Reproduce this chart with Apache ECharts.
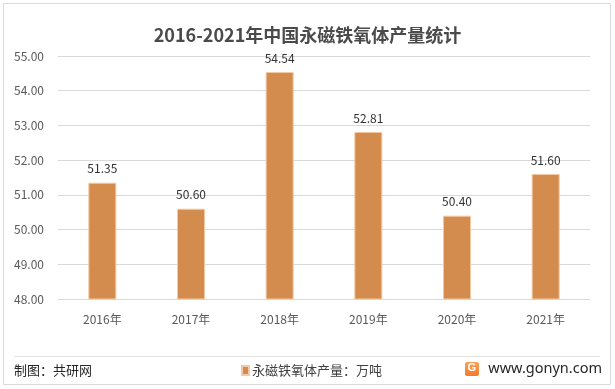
<!DOCTYPE html>
<html>
<head>
<meta charset="utf-8">
<script src="https://cdn.jsdelivr.net/npm/echarts@6/dist/echarts.min.js"></script>
<style>html,body{margin:0;padding:0;background:#fff}#c{width:615px;height:389px}</style>
</head>
<body>
<div id="c"></div>
<script>
var categories = ['2016年','2017年','2018年','2019年','2020年','2021年'];
var values = [51.35, 50.60, 54.54, 52.81, 50.40, 51.60];
var seriesName = '永磁铁氧体产量：万吨';
var titleText = '2016-2021年中国永磁铁氧体产量统计';

var chart = echarts.init(document.getElementById('c'), null, {renderer:'canvas'});
var font = '"Microsoft YaHei","Noto Sans CJK SC","Noto Sans",sans-serif';
chart.setOption({
  animation:false,
  backgroundColor:'#fff',
  title:{text:titleText,left:'center',top:21,textStyle:{fontFamily:font,fontSize:18,fontWeight:'bold',color:'#4a4a4a'}},
  grid:{left:58,right:25,top:56,bottom:90,containLabel:false},
  legend:{data:[seriesName],left:236,top:359,itemWidth:7,itemHeight:9,itemGap:4,icon:'rect',
    textStyle:{fontFamily:font,fontSize:13,color:'#404040',padding:[0,0,0,-2]}},
  xAxis:{type:'category',data:categories,
    axisLine:{show:false},axisTick:{show:false},
    axisLabel:{fontFamily:font,fontSize:12,color:'#595959',margin:14}},
  yAxis:{type:'value',min:48,max:55,interval:1,
    axisLine:{show:false},axisTick:{show:false},
    splitLine:{lineStyle:{color:'#d9d9d9',width:1}},
    axisLabel:{fontFamily:font,fontSize:12,color:'#595959',margin:14,formatter:function(v){return v.toFixed(2);}}},
  series:[{name:seriesName,type:'bar',data:values,barWidth:28,
    itemStyle:{color:'#D48B4E',borderColor:'#F2C9A2',borderWidth:1},
    label:{show:true,position:'top',distance:8,fontFamily:font,fontSize:12,color:'#333333',
      formatter:function(p){return p.value.toFixed(2);}}}],
  graphic:[
    {type:'rect',shape:{x:3.5,y:3.5,width:607,height:381},style:{fill:'none',stroke:'#d9d9d9',lineWidth:1},silent:true},
    {type:'line',shape:{x1:14,y1:356.5,x2:600,y2:356.5},style:{stroke:'#e3e3e3',lineWidth:1}},
    {type:'text',left:14,top:364,style:{text:'制图：共研网',font:'13px '+font,fill:'#262626'}},
    {type:'text',right:13,top:361,style:{text:'www.gonyn.com',font:'14.5px "Noto Sans","Open Sans",sans-serif',fill:'#262626'}},
    {type:'rect',shape:{x:465,y:362,width:14,height:14,r:2},
      style:{fill:new echarts.graphic.LinearGradient(0,0,0,1,[{offset:0,color:'#F9A25A'},{offset:1,color:'#F07A2F'}])}},
    {type:'text',x:467.5,y:362.5,style:{text:'G',font:'bold 11px sans-serif',fill:'#fff'}}
  ]
});
</script>
</body>
</html>
